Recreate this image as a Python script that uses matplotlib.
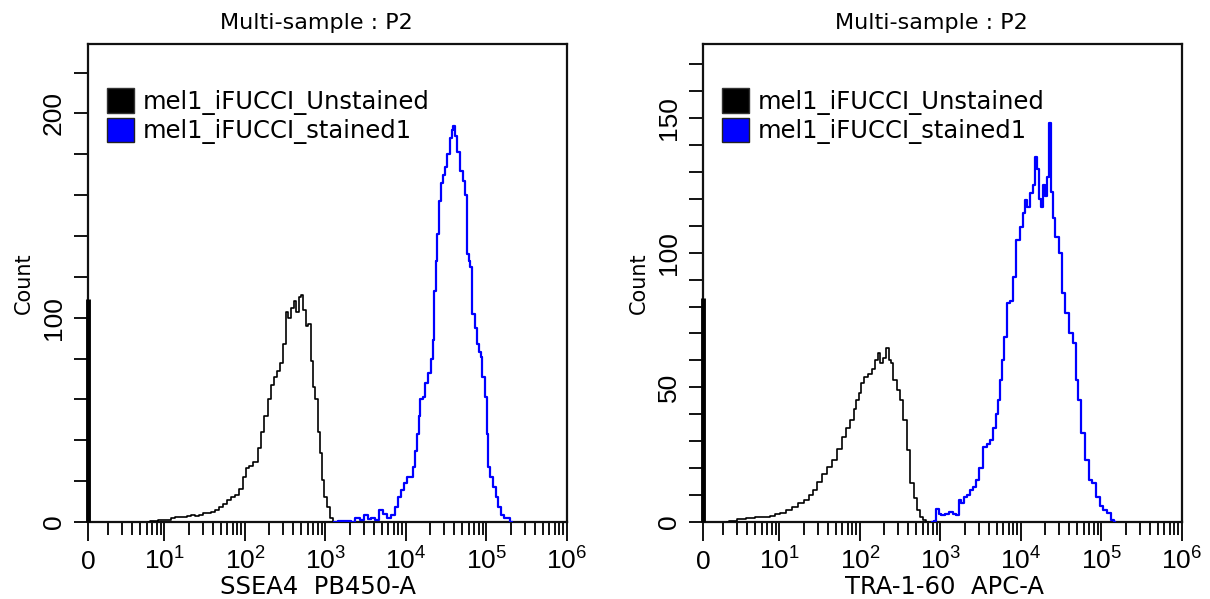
import numpy as np
import matplotlib
matplotlib.use("Agg")
import matplotlib.pyplot as plt
from matplotlib.patches import Patch
from matplotlib.font_manager import FontProperties
from matplotlib.ticker import FixedLocator, LogLocator, NullFormatter, MultipleLocator

# ---------------- data ----------------
title_text = "Multi-sample : P2"
legend_labels = ["mel1_iFUCCI_Unstained", "mel1_iFUCCI_stained1"]
series_colors = ["#000000", "#0000FF"]
xlabels = ["SSEA4  PB450-A", "TRA-1-60  APC-A"]
ylabel = "Count"
xtick_labels = ["0", r"$\mathregular{10^1}$", r"$\mathregular{10^2}$", r"$\mathregular{10^3}$",
                r"$\mathregular{10^4}$", r"$\mathregular{10^5}$", r"$\mathregular{10^6}$"]

# left panel (SSEA4): log10 intensity, counts
ssea4_unst_log = [0.80, 0.85, 0.90, 0.95, 1.00, 1.05, 1.10, 1.15, 1.20, 1.25, 1.30, 1.35, 1.40, 1.45,
                  1.50, 1.55, 1.60, 1.65, 1.70, 1.75, 1.80, 1.85, 1.90, 1.95, 2.00, 2.03, 2.08, 2.13,
                  2.18, 2.22, 2.26, 2.30, 2.34, 2.38, 2.42, 2.46, 2.49, 2.52, 2.56, 2.59, 2.62, 2.65,
                  2.68, 2.71, 2.74, 2.77, 2.80, 2.83, 2.86, 2.89, 2.92, 2.95, 2.97, 3.00, 3.03, 3.07, 3.11]
ssea4_unst_cnt = [0, 0.5, 0.6, 0.8, 1.0, 1.2, 1.8, 2.4, 2.6, 2.4, 3.0, 3.3, 3.0, 3.6,
                  4.2, 4.5, 5.0, 6.0, 7.5, 9.0, 10.8, 12.0, 13.2, 16, 22, 26.2, 27.5, 29.5,
                  36, 44, 52, 60, 67, 71, 74, 78, 87, 103, 100, 105, 108, 103,
                  110, 111, 104, 96, 97, 79, 66, 60, 44, 33.6, 20.5, 12, 7.5, 2, 0]
ssea4_st_log = [3.10, 3.20, 3.28, 3.34, 3.40, 3.45, 3.50, 3.55, 3.59, 3.64, 3.69, 3.74, 3.79, 3.84,
                3.88, 3.92, 3.96, 4.00, 4.03, 4.07, 4.10, 4.13, 4.15, 4.17, 4.19, 4.22, 4.26, 4.29,
                4.32, 4.34, 4.36, 4.38, 4.40, 4.43, 4.45, 4.48, 4.50, 4.53, 4.56, 4.58, 4.60, 4.62,
                4.65, 4.69, 4.72, 4.74, 4.77, 4.79, 4.81, 4.84, 4.87, 4.89, 4.92, 4.94, 4.96, 4.99,
                5.01, 5.03, 5.06, 5.10, 5.13, 5.15, 5.20, 5.24, 5.27, 5.32]
ssea4_st_cnt = [0, 0.3, 0.6, 0, 2, 1, 3.4, 1.5, 2, 1, 6, 4, 2, 3.4,
                7.5, 12.4, 15.6, 19, 22, 22, 27, 35, 43, 52, 60, 61, 68, 73,
                80, 89, 113, 128, 141, 157, 166, 170, 174, 180, 188, 192, 194, 189,
                181, 172, 167, 160, 131, 128, 125, 102, 95, 87, 83, 81, 71, 61,
                43, 27, 22, 17, 12, 7.5, 3.4, 2, 1.8, 0]
ssea4_zero_bin = 109

# right panel (TRA-1-60)
tra_unst_log = [0.35, 0.39, 0.45, 0.50, 0.55, 0.61, 0.67, 0.73, 0.79, 0.85, 0.91, 0.97, 1.05, 1.12,
                1.19, 1.26, 1.34, 1.39, 1.44, 1.50, 1.56, 1.62, 1.68, 1.74, 1.80, 1.85, 1.90, 1.94,
                1.97, 2.00, 2.02, 2.07, 2.12, 2.17, 2.20, 2.24, 2.26, 2.30, 2.34, 2.37, 2.39, 2.44,
                2.49, 2.51, 2.56, 2.60, 2.65, 2.69, 2.73, 2.77, 2.80, 2.84]
tra_unst_cnt = [0, 0.5, 0.5, 1, 1.2, 1.4, 1.5, 1.8, 1.9, 2, 2.3, 2.8, 3.3, 4.5,
                5.7, 7, 8.2, 10, 11.9, 15, 18, 20.5, 23, 27, 31.7, 35, 37.9, 42,
                45.3, 48, 51.6, 54, 55, 57, 60, 62.7, 59, 61, 64.6, 60, 59, 52.7,
                49, 45.3, 38, 26.7, 14.5, 9, 4.5, 2, 0.6, 0]
tra_st_log = [2.90, 2.93, 2.97, 3.00, 3.02, 3.08, 3.14, 3.18, 3.21, 3.24, 3.28, 3.31, 3.35, 3.38,
              3.42, 3.46, 3.50, 3.55, 3.60, 3.63, 3.68, 3.71, 3.73, 3.75, 3.78, 3.80, 3.84, 3.88,
              3.92, 3.96, 4.01, 4.04, 4.06, 4.10, 4.13, 4.16, 4.19, 4.21, 4.24, 4.26, 4.28, 4.31,
              4.33, 4.36, 4.39, 4.40, 4.45, 4.50, 4.52, 4.57, 4.62, 4.67, 4.70, 4.72, 4.77, 4.82,
              4.86, 4.91, 4.96, 5.00, 5.04, 5.09, 5.14, 5.17]
tra_st_cnt = [0, 0.5, 4.9, 3, 2.5, 3, 3.6, 3, 2.5, 8.2, 7, 9.4, 10, 11.9,
              13, 15.6, 20, 28, 29, 30.4, 34.8, 40, 45.3, 52.7, 60, 68.8, 81.2, 82,
              91, 104.7, 109.7, 114.6, 119.6, 117, 122, 125, 135.6, 131, 120, 117, 125, 121,
              128, 148, 122.6, 113, 106, 100, 85, 77.6, 70, 66.4, 52.7, 45.3, 33, 23,
              15.6, 14.4, 9.4, 6, 4.5, 3.3, 0.6, 0]
tra_zero_bin = 83

panels = [
    dict(unst=(ssea4_unst_log, ssea4_unst_cnt), st=(ssea4_st_log, ssea4_st_cnt),
         zero=ssea4_zero_bin, ymax=234, ymajor=[0, 100, 200], yminor=20, xlabel=xlabels[0],
         left_px=88, xlab_dx=-9),
    dict(unst=(tra_unst_log, tra_unst_cnt), st=(tra_st_log, tra_st_cnt),
         zero=tra_zero_bin, ymax=177.5, ymajor=[0, 50, 100, 150], yminor=10, xlabel=xlabels[1],
         left_px=703, xlab_dx=2),
]

# ---------------- figure ----------------
W, H = 1210, 599
AX_W, AX_H, AX_BOTTOM = 479, 478, 522
fig = plt.figure(figsize=(W / 100, H / 100), dpi=100)
tick_font = ["Liberation Sans Narrow", "Liberation Sans", "DejaVu Sans"]
text_font = ["DejaVu Sans"]

xmin = 10 ** 0.05
xmax = 1e6
major_x = [xmin, 1e1, 1e2, 1e3, 1e4, 1e5, 1e6]

for p in panels:
    ax = fig.add_axes([p["left_px"] / W, (H - AX_BOTTOM) / H, AX_W / W, AX_H / H])
    ax.set_xscale("log")
    ax.set_xlim(xmin, xmax)
    ax.set_ylim(0, p["ymax"])

    lx, cy = p["unst"]
    ax.step(10 ** np.array(lx), cy, where="mid", color=series_colors[0], lw=1.2, zorder=3)
    lx, cy = p["st"]
    ax.step(10 ** np.array(lx), cy, where="mid", color=series_colors[1], lw=1.6, zorder=4)
    ax.vlines(xmin, 0, p["zero"], color="black", lw=3.5, zorder=5, clip_on=False)

    for s in ax.spines.values():
        s.set_linewidth(1.6)
        s.set_color("#111111")

    ax.xaxis.set_major_locator(FixedLocator(major_x))
    ax.set_xticklabels(xtick_labels)
    ax.xaxis.set_minor_locator(LogLocator(base=10, subs=range(2, 10), numticks=100))
    ax.xaxis.set_minor_formatter(NullFormatter())
    ax.tick_params(axis="x", which="major", direction="out", length=14, width=1.3,
                   labelsize=19, pad=20, bottom=True, top=False)
    ax.tick_params(axis="x", which="minor", direction="out", length=9, width=1.3,
                   bottom=True, top=False)
    for t in ax.get_xticklabels():
        t.set_verticalalignment("baseline")
        t.set_family(tick_font)

    ax.yaxis.set_major_locator(FixedLocator(p["ymajor"]))
    ax.yaxis.set_minor_locator(MultipleLocator(p["yminor"]))
    ax.tick_params(axis="y", which="both", direction="out", length=10, width=1.3,
                   left=True, right=False)
    ax.tick_params(axis="y", which="major", labelsize=19, pad=6, labelrotation=90)
    for t in ax.get_yticklabels():
        t.set_verticalalignment("center")
        t.set_family(tick_font)

    ax.set_title(title_text, fontsize=16, pad=11, family=text_font, x=0.5 - 11 / AX_W)
    ax.set_xlabel(p["xlabel"], fontsize=17.5, family=text_font, va="baseline")
    ax.xaxis.set_label_coords(0.5 + p["xlab_dx"] / AX_W, (AX_BOTTOM - 594) / AX_H)
    ax.set_ylabel(ylabel, fontproperties=FontProperties(family=["DejaVu Sans"], size=15),
                  va="center")
    ax.yaxis.set_label_coords(-64 / AX_W, 0.5)

    handles = [Patch(facecolor=series_colors[0], edgecolor="#333333", lw=1),
               Patch(facecolor=series_colors[1], edgecolor="#222222", lw=1)]
    ax.legend(handles, legend_labels, loc="upper left", bbox_to_anchor=(0.04, 0.907),
              borderaxespad=0, borderpad=0, frameon=False, prop=dict(family=text_font, size=17.5),
              handlelength=1.1, handleheight=1.15, handletextpad=0.37, labelspacing=0.12)

fig.savefig("out.png", dpi=100)
